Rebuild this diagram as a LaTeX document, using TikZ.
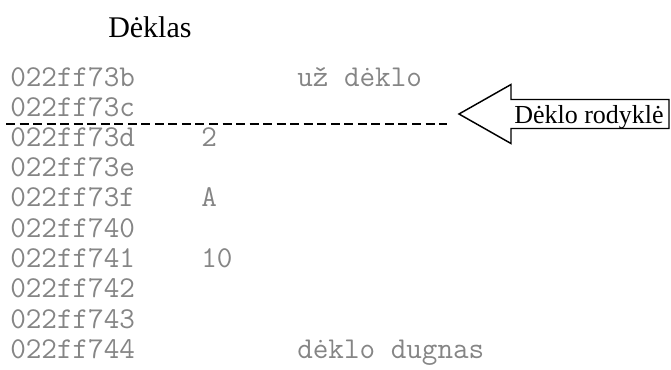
\documentclass[tikz,border=0pt]{standalone}
\usepackage{fontspec}
\setmainfont{Liberation Serif}
\definecolor{memgray}{HTML}{858585}
\begin{document}
\begin{tikzpicture}[x=0.75pt,y=-0.75pt,
  addr/.style={anchor=base west,inner sep=0pt,text=memgray,font=\ttfamily\fontsize{22.7pt}{27pt}\selectfont},
  title/.style={anchor=base west,inner sep=0pt,font=\fontsize{22.5pt}{27pt}\selectfont},
  lbl/.style={anchor=base west,inner sep=0pt,font=\fontsize{19.5pt}{23pt}\selectfont},
  sparrow/.style={draw=black,line width=1.1pt,fill=white,line join=miter},
  spline/.style={draw=black,line width=1.1pt,dash pattern=on 6.75pt off 3.4pt}]
\useasboundingbox (0,0) rectangle (671,369);
\node[title] (title) at (108,37) {Dėklas};
% addresses
\node[addr] (a1) at (10,86) {022ff73b};
\node[addr] (a2) at (10,116) {022ff73c};
\node[addr] (a3) at (10,146) {022ff73d};
\node[addr] (a4) at (10,176) {022ff73e};
\node[addr] (a5) at (10,206.5) {022ff73f};
\node[addr] (a6) at (10,237) {022ff740};
\node[addr] (a7) at (10,267) {022ff741};
\node[addr] (a8) at (10,297.5) {022ff742};
\node[addr] (a9) at (10,328) {022ff743};
\node[addr] (a10) at (10,358) {022ff744};
% values
\node[addr] (v3) at (201,146) {2};
\node[addr] (v5) at (201,206.5) {A};
\node[addr] (v7) at (201,267) {10};
\node[addr] (top) at (297,86) {už dėklo};
\node[addr] (bot) at (297,358) {dėklo dugnas};
% stack pointer line
\coordinate (ls) at (6,124);
\coordinate (le) at (447,124);
\draw[spline] (ls) -- (le);
% arrow
\coordinate (tip) at (459,114);
\draw[sparrow] (tip) -- (511,84.5) -- (511,99.5) -- (669,99.5) -- (669,128.5) -- (511,128.5) -- (511,143.5) -- cycle;
\node[lbl] (sp) at (514,123) {Dėklo rodyklė};
\end{tikzpicture}
\end{document}
